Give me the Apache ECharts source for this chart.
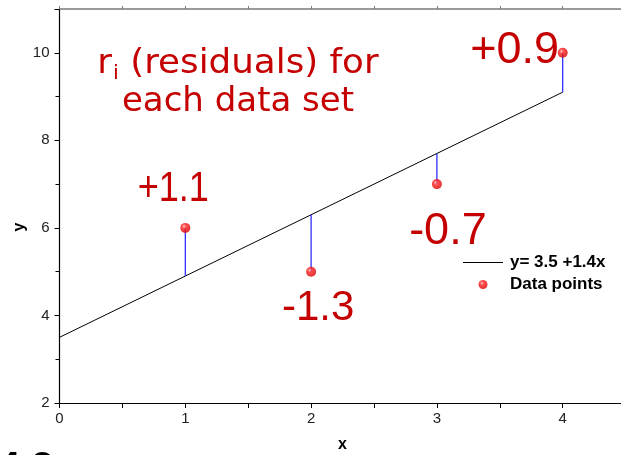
<!DOCTYPE html>
<html>
<head>
<meta charset="utf-8">
<script src="https://cdn.jsdelivr.net/npm/echarts@6/dist/echarts.min.js"></script>
<style>
  html, body { margin: 0; padding: 0; background: #fff; }
  #chart { width: 621px; height: 455px; }
</style>
</head>
<body>
<div id="chart"></div>
<script>
// Measured points and the least-squares line through them
const xValues = [1, 2, 3, 4];
const yValues = [6, 5, 7, 10];
const intercept = 3.5;
const slope = 1.4;
const fitRange = [0, 4];

// Axis tick labels
const xTickLabels = ['0', '1', '2', '3', '4'];
const yTickLabels = ['2', '4', '6', '8', '10'];

// Legend / caption texts
const fitName = 'y= 3.5 +1.4x';
const pointsName = 'Data points';

const RED = '#c40000';
const fitY = x => intercept + slope * x;

const points = xValues.map((x, i) => [x, yValues[i]]);
const fitLine = fitRange.map(x => [x, +fitY(x).toFixed(4)]);

// Pixel nudges and horizontal squeeze for each residual caption
const captionShift = [[-12, -38], [7, 37], [11, 47], [-48, -2]];
const captionSqueeze = [0.86, 1, 1, 1];

function fmtResidual(r) {
  const s = Math.abs(r).toFixed(1);
  return (r >= 0 ? '+' : '-') + s;
}

const chart = echarts.init(document.getElementById('chart'), null, { renderer: 'canvas' });

const axisFont = { fontFamily: 'Liberation Sans', fontSize: 15, color: '#222' };

chart.setOption({
  animation: false,
  backgroundColor: '#fff',
  grid: { left: 59.5, right: -4.6, top: 9, bottom: 52, containLabel: false, outerBoundsMode: 'none' },
  xAxis: [
    {
      type: 'value', min: 0, max: 4.5, interval: 1,
      name: 'x', nameLocation: 'middle', nameGap: 34,
      nameTextStyle: { fontFamily: 'Liberation Sans', fontWeight: 'bold', fontSize: 16, color: '#000' },
      axisLine: { show: true, onZero: false, lineStyle: { color: '#000', width: 1.2 } },
      axisTick: { show: true, inside: false, length: 5, lineStyle: { color: '#000' } },
      minorTick: { show: true, splitNumber: 2, length: 5, lineStyle: { color: '#000' } },
      splitLine: { show: false },
      axisLabel: Object.assign({ margin: 8, formatter: v => xTickLabels.includes(String(v)) ? String(v) : '' }, axisFont)
    },
    {
      type: 'value', position: 'top', min: 0, max: 4.5, interval: 1,
      axisLine: { show: true, onZero: false, lineStyle: { color: '#7a7a7a', width: 1.5 } },
      axisTick: { show: true, inside: false, length: 3, lineStyle: { color: '#7a7a7a' } },
      minorTick: { show: true, splitNumber: 2, length: 3, lineStyle: { color: '#7a7a7a' } },
      splitLine: { show: false },
      axisLabel: { show: false }
    }
  ],
  yAxis: {
    type: 'value', min: 2, max: 11, interval: 2,
    axisLine: { show: true, onZero: false, lineStyle: { color: '#000', width: 1.2 } },
    axisTick: { show: true, inside: false, length: 5, lineStyle: { color: '#000' } },
    minorTick: { show: true, splitNumber: 2, length: 4, lineStyle: { color: '#000' } },
    splitLine: { show: false },
    axisLabel: Object.assign({ margin: 10, formatter: v => yTickLabels.includes(String(v)) ? String(v) : '' }, axisFont)
  },
  legend: {
    orient: 'vertical', left: 463, top: 253, itemGap: 3, padding: 0,
    itemWidth: 40, itemHeight: 9,
    textStyle: { fontFamily: 'Liberation Sans', fontWeight: 'bold', fontSize: 17, color: '#000', letterSpacing: -0.6, padding: [0, 0, 0, 2], lineHeight: 19 },
    data: [
      { name: fitName, icon: 'path://M0,0 L40,0 L40,1 L0,1 Z' },
      { name: pointsName }
    ]
  },
  series: [
    {
      name: fitName, type: 'line', data: fitLine, symbol: 'none',
      lineStyle: { color: '#000', width: 1 }, itemStyle: { color: '#000' }, z: 2
    },
    {
      name: 'residuals', type: 'custom', data: points, z: 3,
      renderItem: function (params, api) {
        const x = api.value(0), y = api.value(1);
        const p = api.coord([x, y]);
        const q = api.coord([x, fitY(x)]);
        return {
          type: 'line',
          shape: { x1: p[0], y1: p[1], x2: q[0], y2: q[1] },
          style: { stroke: '#1f1fff', lineWidth: 1.2 }
        };
      }
    },
    {
      name: pointsName, type: 'scatter', data: points, symbol: 'circle', symbolSize: 10, z: 5,
      itemStyle: {
        color: {
          type: 'radial', x: 0.38, y: 0.35, r: 0.65,
          colorStops: [
            { offset: 0, color: '#ffb0b0' },
            { offset: 0.35, color: '#ff2020' },
            { offset: 1, color: '#d80000' }
          ]
        }
      }
    },
    {
      name: 'residual captions', type: 'custom', data: points, z: 6, silent: true,
      renderItem: function (params, api) {
        const i = params.dataIndex;
        const x = api.value(0), y = api.value(1);
        const p = api.coord([x, y]);
        const sh = captionShift[i];
        return {
          type: 'text',
          x: p[0] + sh[0], y: p[1] + sh[1],
          scaleX: captionSqueeze[i],
          style: {
            text: fmtResidual(y - fitY(x)),
            fontFamily: 'Liberation Sans', fontSize: i < 2 ? 42 : 45,
            fill: RED, align: 'center', verticalAlign: 'middle'
          }
        };
      }
    }
  ],
  graphic: [
    {
      type: 'text', x: 238, y: 44, scaleX: 1.05,
      style: {
        text: '{a|r}{s|i}{a| (residuals) for}',
        align: 'center',
        rich: {
          a: { fontFamily: 'DejaVu Sans', fontSize: 34, fill: RED, color: RED },
          s: { fontFamily: 'DejaVu Sans', fontSize: 20, fill: RED, color: RED, verticalAlign: 'bottom', padding: [20, 0, 0, 1] }
        }
      }
    },
    {
      type: 'text', x: 238, y: 85,
      style: { text: 'each data set', align: 'center', fontFamily: 'DejaVu Sans', fontSize: 34, fill: RED }
    },
    {
      // y-axis title, reading bottom to top
      type: 'text', x: 20, y: 227, rotation: Math.PI / 2,
      style: { text: 'y', align: 'center', verticalAlign: 'middle', fontFamily: 'Liberation Sans', fontWeight: 'bold', fontSize: 16, fill: '#000' }
    },
    {
      type: 'text', left: -2, top: 449,
      style: { text: '4.2', fontFamily: 'Liberation Sans', fontWeight: 'bold', fontSize: 40, fill: '#000' }
    }
  ]
});
</script>
</body>
</html>
